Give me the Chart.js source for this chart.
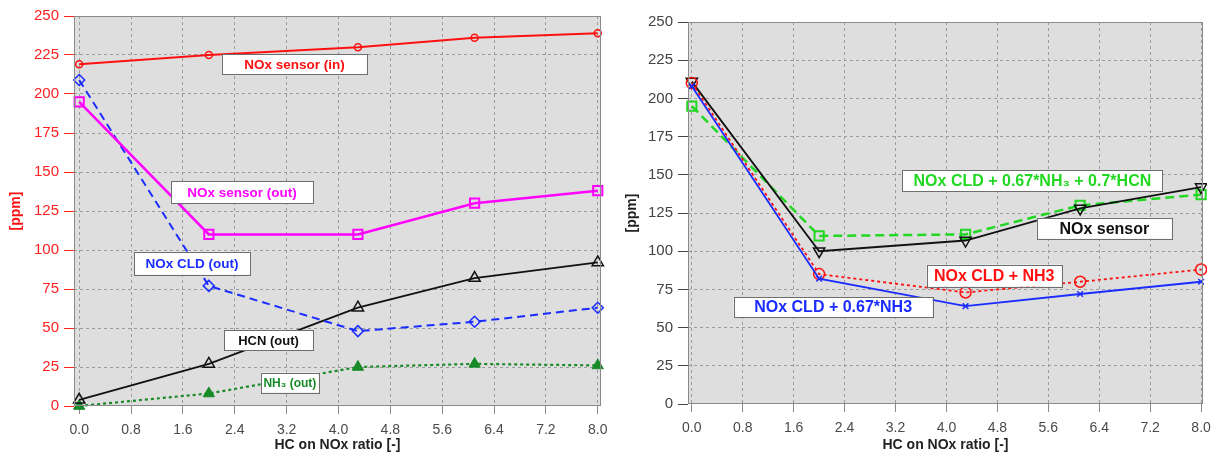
<!DOCTYPE html>
<html>
<head>
<meta charset="utf-8">
<script src="https://cdn.jsdelivr.net/npm/chart.js@4.4.1/dist/chart.umd.min.js"></script>
<style>
  html, body { margin: 0; padding: 0; background: #fff; }
  .panel { position: absolute; top: 0; height: 459px; }
  #leftBox { left: 0; width: 610px; }
  #rightBox { left: 610px; width: 611px; }
</style>
</head>
<body>
<div class="panel" id="leftBox"><canvas id="leftChart"></canvas></div>
<div class="panel" id="rightBox"><canvas id="rightChart"></canvas></div>
<script>
// Données
const xRatio = [0, 2.0, 4.3, 6.1, 8.0];
const xTicks = [0, 0.8, 1.6, 2.4, 3.2, 4.0, 4.8, 5.6, 6.4, 7.2, 8.0];
const yTicks = [0, 25, 50, 75, 100, 125, 150, 175, 200, 225, 250];

// gauche
const noxSensorIn = [219, 225, 230, 236, 239];
const noxSensorOut = [195, 110, 110, 130, 138];
const noxCldOut = [209, 77, 48, 54, 63];
const hcnOut = [4, 27, 63, 82, 92];
const nh3Out = [0, 8, 25, 27, 26];

// droite
const noxCld067 = [208, 82, 64, 72, 80];
const noxCldNh3 = [210, 85, 73, 80, 88];
const noxSensor = [211, 100, 107, 128, 142];
const noxCldNh3Hcn = [195, 110, 111, 130, 137];

const FONT = 'Liberation Sans, Arial, sans-serif';

function pts(values) {
  return values.map((v, i) => ({ x: xRatio[i], y: v }));
}

// fond gris, cadre et étiquettes encadrées
const frameAndLabels = {
  id: 'frameAndLabels',
  beforeDraw(chart) {
    const a = chart.chartArea;
    const ctx = chart.ctx;
    ctx.save();
    ctx.fillStyle = '#dedede';
    ctx.fillRect(a.left, a.top, a.right - a.left, a.bottom - a.top);
    ctx.restore();
  },
  afterDraw(chart, args, opts) {
    const a = chart.chartArea;
    const ctx = chart.ctx;
    ctx.save();
    ctx.strokeStyle = '#8a8a8a';
    ctx.lineWidth = 1;
    ctx.strokeRect(a.left + 0.5, a.top + 0.5, a.right - a.left - 1, a.bottom - a.top - 1);

    const xs = chart.scales.x, ys = chart.scales.y;
    (opts.labels || []).forEach(l => {
      const cx = xs.getPixelForValue(l.x);
      const cy = ys.getPixelForValue(l.y);
      ctx.font = 'bold ' + l.size + 'px ' + FONT;
      const w = l.w;
      const h = l.h;
      ctx.fillStyle = '#fff';
      ctx.fillRect(cx - w / 2, cy - h / 2, w, h);
      ctx.strokeStyle = '#6e6e6e';
      ctx.strokeRect(Math.round(cx - w / 2) + 0.5, Math.round(cy - h / 2) + 0.5, w, h);
      ctx.fillStyle = l.color;
      ctx.textAlign = 'center';
      ctx.textBaseline = 'middle';
      ctx.fillText(l.text, cx, cy + 1);
    });
    ctx.restore();
  }
};

function makeChart(id, datasets, cfg) {
  const ctx = document.getElementById(id).getContext('2d');
  return new Chart(ctx, {
    type: 'line',
    data: { datasets: datasets },
    options: {
      responsive: true,
      maintainAspectRatio: false,
      animation: false,
      layout: { padding: { top: cfg.top, right: cfg.right, left: 0, bottom: 0 } },
      plugins: {
        legend: { display: false },
        tooltip: { enabled: false },
        frameAndLabels: { labels: cfg.labels }
      },
      scales: {
        x: {
          type: 'linear',
          min: cfg.xMin,
          max: cfg.xMax,
          afterBuildTicks: (s) => { s.ticks = xTicks.map(v => ({ value: v })); },
          afterFit: (s) => { s.height = cfg.xHeight; s.paddingRight = 0; s.paddingLeft = 0; },
          grid: {
            color: '#9c9c9c',
            tickColor: '#8a8a8a',
            tickLength: 8,
            tickBorderDash: []
          },
          border: { display: false, dash: [3, 3] },
          ticks: {
            color: '#4a4a4a',
            font: { family: FONT, size: 14 },
            padding: 8,
            maxRotation: 0,
            callback: (v) => v.toFixed(1)
          },
          title: {
            display: true,
            text: 'HC on NOx ratio [-]',
            color: '#222',
            font: { family: FONT, size: 14, weight: 'bold' },
            padding: { top: 0, bottom: 5 }
          }
        },
        y: {
          min: 0,
          max: 250,
          afterBuildTicks: (s) => { s.ticks = yTicks.map(v => ({ value: v })); },
          afterFit: (s) => { s.width = cfg.yWidth; },
          grid: {
            color: (c) => (c.tick && (c.tick.value === 0 || c.tick.value === 250)) ? 'rgba(0,0,0,0)' : '#9c9c9c',
            tickColor: cfg.yColor,
            tickLength: 10,
            tickBorderDash: []
          },
          border: { display: false, dash: [3, 3] },
          ticks: {
            color: cfg.yColor,
            font: { family: FONT, size: 15 },
            padding: 5
          },
          title: {
            display: true,
            text: '[ppm]',
            color: cfg.yTitleColor,
            font: { family: FONT, size: 14, weight: 'bold' },
            padding: { top: cfg.yTitlePad, bottom: 0 }
          }
        }
      }
    },
    plugins: [frameAndLabels]
  });
}

// --- graphique de gauche ---
makeChart('leftChart', [
  { data: pts(noxSensorIn), borderColor: '#ff1010', borderWidth: 2, pointStyle: 'circle', pointRadius: 3.5,
    pointBorderWidth: 1.5, pointBorderColor: '#ff1010', pointBackgroundColor: 'rgba(0,0,0,0)', tension: 0, clip: 4 },
  { data: pts(noxSensorOut), borderColor: '#ff00ff', borderWidth: 2.5, pointStyle: 'rect', pointRadius: 6.5,
    pointBorderWidth: 2, pointBorderColor: '#ff00ff', pointBackgroundColor: 'rgba(0,0,0,0)', tension: 0, clip: 4 },
  { data: pts(noxCldOut), borderColor: '#1a2cff', borderWidth: 2, borderDash: [8, 5], pointStyle: 'rectRot', pointRadius: 5.5,
    pointBorderWidth: 1.5, pointBorderColor: '#1a2cff', pointBackgroundColor: 'rgba(0,0,0,0)', tension: 0, clip: 4 },
  { data: pts(hcnOut), borderColor: '#111', borderWidth: 1.8, pointStyle: 'triangle', pointRadius: 6.5,
    pointBorderWidth: 1.5, pointBorderColor: '#111', pointBackgroundColor: 'rgba(0,0,0,0)', tension: 0, clip: 4 },
  { data: pts(nh3Out), borderColor: '#188a28', borderWidth: 2.2, borderDash: [3, 3], pointStyle: 'triangle', pointRadius: 6.5,
    pointBorderWidth: 1, pointBorderColor: '#188a28', pointBackgroundColor: '#188a28', tension: 0, clip: 4 }
], {
  top: 16, right: 9, xHeight: 53, yWidth: 74, xMin: -0.08, xMax: 8.05,
  yColor: '#ff2020', yTitleColor: '#ff1010', yTitlePad: 8,
  labels: [
    { text: 'NOx sensor (in)', x: 3.32, y: 219, w: 145, h: 20, size: 13.5, color: '#ff1010' },
    { text: 'NOx sensor (out)', x: 2.51, y: 137, w: 142, h: 22, size: 13.5, color: '#ff00ff' },
    { text: 'NOx CLD (out)', x: 1.74, y: 91.5, w: 116, h: 23, size: 13.5, color: '#1a2cff' },
    { text: 'HCN (out)', x: 2.92, y: 42, w: 89, h: 20, size: 13, color: '#111' },
    { text: 'NH\u2083 (out)', x: 3.25, y: 15, w: 58, h: 20, size: 12, color: '#188a28' }
  ]
});

// --- graphique de droite ---
makeChart('rightChart', [
  { data: pts(noxCld067), borderColor: '#1a2cff', borderWidth: 1.8, pointStyle: 'crossRot', pointRadius: 4,
    pointBorderWidth: 1.5, pointBorderColor: '#1a2cff', tension: 0, clip: 4 },
  { data: pts(noxCldNh3), borderColor: '#ff1010', borderWidth: 1.8, borderDash: [3, 3], pointStyle: 'circle', pointRadius: 5.5,
    pointBorderWidth: 1.5, pointBorderColor: '#ff1010', pointBackgroundColor: 'rgba(0,0,0,0)', tension: 0, clip: 4 },
  { data: pts(noxSensor), borderColor: '#111', borderWidth: 1.8, pointStyle: 'triangle', rotation: 180, pointRadius: 6.5,
    pointBorderWidth: 1.5, pointBorderColor: '#111', pointBackgroundColor: 'rgba(0,0,0,0)', tension: 0, clip: 4 },
  { data: pts(noxCldNh3Hcn), borderColor: '#22d822', borderWidth: 2.5, borderDash: [9, 5], pointStyle: 'rect', pointRadius: 6.5,
    pointBorderWidth: 2, pointBorderColor: '#22d822', pointBackgroundColor: 'rgba(0,0,0,0)', tension: 0, clip: 4 }
], {
  top: 22, right: 18, xHeight: 55, yWidth: 78, xMin: -0.06, xMax: 8.03,
  yColor: '#444', yTitleColor: '#222', yTitlePad: 14,
  labels: [
    { text: 'NOx CLD + 0.67*NH\u2083 + 0.7*HCN', x: 5.35, y: 146, w: 260, h: 21, size: 16, color: '#22d822' },
    { text: 'NOx sensor', x: 6.48, y: 115, w: 135, h: 21, size: 16, color: '#111' },
    { text: 'NOx CLD + NH3', x: 4.75, y: 84, w: 135, h: 22, size: 16, color: '#ff1010' },
    { text: 'NOx CLD + 0.67*NH3', x: 2.22, y: 63.5, w: 199, h: 20, size: 16, color: '#1a2cff' }
  ]
});
</script>
</body>
</html>
